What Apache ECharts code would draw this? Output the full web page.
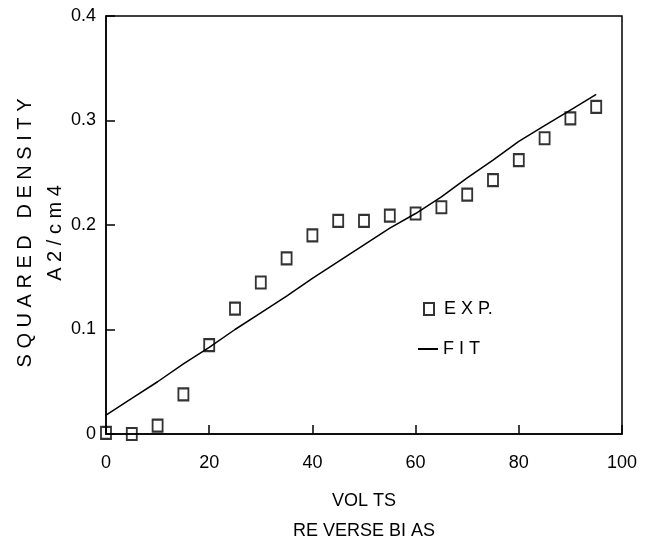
<!DOCTYPE html>
<html>
<head>
<meta charset="utf-8">
<script src="https://cdn.jsdelivr.net/npm/echarts@6/dist/echarts.min.js"></script>
<style>html,body{margin:0;padding:0;background:#fff}#c{width:650px;height:543px}</style>
</head>
<body>
<div id="c"></div>
<script>
var expVolts = [0,5,10,15,20,25,30,35,40,45,50,55,60,65,70,75,80,85,90,95];
var expValues = [0.001,0.0,0.008,0.038,0.085,0.120,0.145,0.168,0.190,0.204,0.204,0.209,0.211,0.217,0.229,0.243,0.262,0.283,0.302,0.313];
var fitVolts = [0,5,10,15,20,25,30,35,40,45,50,55,60,65,70,75,80,85,90,95];
var fitValues = [0.018,0.034,0.050,0.067,0.083,0.100,0.116,0.132,0.149,0.165,0.181,0.197,0.211,0.227,0.245,0.262,0.280,0.295,0.310,0.325];
var xTicks = [0,20,40,60,80,100];
var yTicks = [0,0.1,0.2,0.3,0.4];

var expData = expVolts.map(function(v,i){return [v, expValues[i]];});
var fitData = fitVolts.map(function(v,i){return [v, fitValues[i]];});
var FONT = 'Liberation Sans';

var chart = echarts.init(document.getElementById('c'), null, {renderer:'canvas'});
chart.setOption({
  animation: false,
  backgroundColor: '#fff',
  grid: {left:106, right:28, top:16, bottom:109, show:true, borderColor:'#000', borderWidth:1.5,
         containLabel:false, outerBoundsMode:'none'},
  xAxis: {
    type:'value', min:0, max:100, interval:20,
    axisLine:{show:true, lineStyle:{color:'#000', width:1.5}},
    axisTick:{show:true, inside:true, length:9, lineStyle:{color:'#000', width:1.5}},
    splitLine:{show:false},
    axisLabel:{color:'#000', fontFamily:FONT, fontSize:18, margin:20,
      formatter:function(v){return xTicks.indexOf(v)>=0 ? String(v) : '';}},
    name:'VOL TS\nRE VERSE BI AS', nameLocation:'middle', nameGap:52, nameMoveOverlap:false,
    nameTextStyle:{color:'#000', fontFamily:FONT, fontSize:18, lineHeight:30}
  },
  yAxis: {
    type:'value', min:0, max:0.4, interval:0.1,
    axisLine:{show:true, lineStyle:{color:'#000', width:1.5}},
    axisTick:{show:true, inside:true, length:9, lineStyle:{color:'#000', width:1.5}},
    splitLine:{show:false},
    axisLabel:{color:'#000', fontFamily:FONT, fontSize:18, margin:10,
      formatter:function(v){var t=yTicks.filter(function(y){return Math.abs(y-v)<1e-9;}); return t.length? String(Math.round(v*10)/10):'';}},
    name:'S Q U A R E D   D E N S I T Y\nA 2 / c m 4', nameLocation:'middle', nameGap:36, nameRotate:90, nameMoveOverlap:false,
    nameTextStyle:{color:'#000', fontFamily:FONT, fontSize:20, lineHeight:30, padding:[0,16,0,0]}
  },
  legend: [
    {data:['EXP.'], left:423, top:300, padding:0, orient:'vertical', itemWidth:10, itemHeight:12, selectedMode:false,
     formatter:function(n){return ' E X P.';},
     textStyle:{color:'#000', fontFamily:FONT, fontSize:18}},
    {data:[{name:'FIT', icon:'rect', itemStyle:{color:'#000', borderWidth:0}}], left:418, top:340, padding:0, orient:'vertical', itemWidth:20, itemHeight:2, selectedMode:false,
     formatter:function(n){return 'F I T';},
     textStyle:{color:'#000', fontFamily:FONT, fontSize:18}}
  ],
  series: [
    {name:'FIT', type:'line', data:fitData, symbol:'none', smooth:false,
     itemStyle:{color:'#000'}, lineStyle:{color:'#000', width:1.5}, z:2},
    {name:'EXP.', type:'scatter', data:expData, symbol:'rect', symbolSize:[10,12],
     itemStyle:{color:'rgba(255,255,255,0)', borderColor:'#000', borderWidth:2}, z:3}
  ]
});
</script>
</body>
</html>
